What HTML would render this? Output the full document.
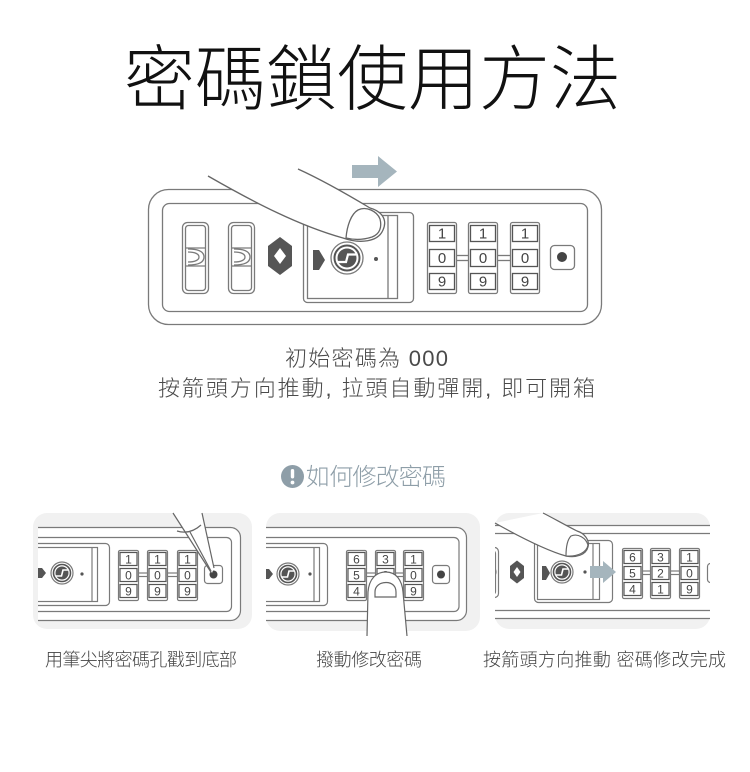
<!DOCTYPE html>
<html><head><meta charset="utf-8">
<style>
html,body{margin:0;padding:0;background:#fff;}
svg{display:block;}
.cj{font-family:"Liberation Sans","Noto Sans CJK TC",sans-serif;}
.dg{font-family:"Liberation Sans",sans-serif;fill:#444;text-anchor:middle;}
</style></head><body>
<svg width="750" height="772" viewBox="0 0 750 772" xmlns="http://www.w3.org/2000/svg">
<defs>
<clipPath id="c1"><rect x="38" y="500" width="214" height="140"/></clipPath>
<clipPath id="c2"><rect x="266" y="500" width="214" height="140"/></clipPath>
<clipPath id="c3"><rect x="495" y="500" width="215" height="140"/></clipPath>
</defs>

<!-- Title -->
<text class="cj" x="124" y="104" font-size="71" font-weight="300" fill="#111" textLength="497" lengthAdjust="spacing">密碼鎖使用方法</text>

<!-- top arrow -->
<polygon points="352,165 378,165 378,156 397,171.5 378,187 378,178 352,178" fill="#a5b5bd"/>

<!-- Top lock -->
<g fill="none" stroke="#7a7a7a" stroke-width="1.3">
<rect x="148.5" y="189.5" width="453" height="135" rx="20" fill="#fff"/>
<rect x="162.5" y="203.5" width="425" height="108" rx="7"/>
<rect x="182.5" y="222.5" width="26" height="71" rx="5"/>
<rect x="185.5" y="225.5" width="20" height="65" rx="3"/>
<line x1="185.5" y1="248" x2="205.5" y2="248"/>
<line x1="185.5" y1="266" x2="205.5" y2="266"/>
<path d="M188,249 C199,249 204,252 204,257 C204,262 199,265 188,265"/>
<path d="M188,252 C195,252 199,254 199,257 C199,260 195,262 188,262"/>
<rect x="228.5" y="222.5" width="26" height="71" rx="5"/>
<rect x="231.5" y="225.5" width="20" height="65" rx="3"/>
<line x1="231.5" y1="248" x2="251.5" y2="248"/>
<line x1="231.5" y1="266" x2="251.5" y2="266"/>
<path d="M234,249 C245,249 250,252 250,257 C250,262 245,265 234,265"/>
<path d="M234,252 C241,252 245,254 245,257 C245,260 241,262 234,262"/>
<rect x="303.5" y="212.5" width="110" height="90" rx="4" fill="#fff"/>
<rect x="307.5" y="215.5" width="90" height="83"/>
<line x1="388" y1="215.5" x2="388" y2="298.5"/>
<circle cx="347" cy="258" r="16"/>
<circle cx="347" cy="258" r="12.5" stroke="#555" stroke-width="2"/>
<!-- wheels -->
<rect x="427.5" y="222.5" width="29" height="71" rx="2"/>
<rect x="468.5" y="222.5" width="29" height="71" rx="2"/>
<rect x="510.5" y="222.5" width="29" height="71" rx="2"/>
<g stroke="#555" fill="#fff">
<rect x="429.5" y="225.5" width="25" height="16"/><rect x="429.5" y="249.5" width="25" height="17"/><rect x="429.5" y="273.5" width="25" height="16"/>
<rect x="470.5" y="225.5" width="25" height="16"/><rect x="470.5" y="249.5" width="25" height="17"/><rect x="470.5" y="273.5" width="25" height="16"/>
<rect x="512.5" y="225.5" width="25" height="16"/><rect x="512.5" y="249.5" width="25" height="17"/><rect x="512.5" y="273.5" width="25" height="16"/>
</g>
<line x1="456" y1="255.5" x2="468" y2="255.5"/><line x1="456" y1="260.5" x2="468" y2="260.5"/>
<line x1="497" y1="255.5" x2="510" y2="255.5"/><line x1="497" y1="260.5" x2="510" y2="260.5"/>
<rect x="550.5" y="245.5" width="24" height="24" rx="4"/>
</g>
<circle cx="347" cy="258" r="9.5" fill="#555"/>
<path d="M338,262 L346,262 L348,254.5 L356,254.5" stroke="#fff" stroke-width="2.2" fill="none"/>
<circle cx="376" cy="259" r="2" fill="#555"/>
<circle cx="562" cy="257" r="5" fill="#444"/>
<polygon points="313,250 319,250 325,260 319,270 313,270" fill="#555"/>
<polygon points="280,237 292,246 292,266 280,275 268,266 268,246" fill="#555"/>
<polygon points="280,248 286,256 280,264 274,256" fill="#fff"/>
<g class="dg" font-size="15">
<text x="442" y="238.5">1</text><text x="442" y="263">0</text><text x="442" y="286.5">9</text>
<text x="483" y="238.5">1</text><text x="483" y="263">0</text><text x="483" y="286.5">9</text>
<text x="525" y="238.5">1</text><text x="525" y="263">0</text><text x="525" y="286.5">9</text>
</g>
<!-- top finger -->
<path d="M208,176 C255,203 300,226 343,238 C360,244 378,242 383,230 C388,219 381,211 370,208 C345,193 320,179 298,169" fill="#fff" stroke="#666" stroke-width="1.3"/>
<path d="M346,238 C347,226 351,214 358,210 C366,206 377,211 380,219 C382,227 380,234 372,237 C363,240 354,240 346,238 Z" fill="#fff" stroke="#666" stroke-width="1.3"/>

<!-- Middle text -->
<text class="cj" x="285" y="366" font-size="22" font-weight="300" fill="#4a4a4a" textLength="163" lengthAdjust="spacing">初始密碼為 000</text>
<text class="cj" x="158" y="396" font-size="22" font-weight="300" fill="#4a4a4a" textLength="437" lengthAdjust="spacing">按箭頭方向推動, 拉頭自動彈開, 即可開箱</text>

<!-- How to change -->
<circle cx="292.5" cy="476.5" r="11.5" fill="#8e9ea8"/>
<rect x="290.8" y="469" width="3.4" height="9.5" rx="1.7" fill="#fff"/>
<circle cx="292.5" cy="482.5" r="1.9" fill="#fff"/>
<text class="cj" x="306" y="485" font-size="24" font-weight="300" fill="#8e9ea8" textLength="140" lengthAdjust="spacing">如何修改密碼</text>

<!-- Panel backgrounds -->
<rect x="33" y="513" width="219" height="116" rx="14" fill="#f1f1f1"/>
<rect x="266" y="513" width="214" height="118" rx="14" fill="#f1f1f1"/>
<rect x="495" y="513" width="215" height="116" rx="14" fill="#f1f1f1"/>

<!-- Panel 1 -->
<g clip-path="url(#c1)" fill="none" stroke="#7a7a7a" stroke-width="1.2">
<rect x="20.5" y="527.5" width="220" height="93" rx="10" fill="#fff"/>
<rect x="20.5" y="537.5" width="211" height="74" rx="5"/>
<rect x="20.5" y="543.5" width="89" height="62" rx="4"/>
<rect x="20.5" y="547.5" width="77" height="54"/>
<line x1="92" y1="547.5" x2="92" y2="601.5"/>
</g>
<g fill="none" stroke="#7a7a7a" stroke-width="1.2">
<circle cx="62" cy="573" r="11"/>
<circle cx="62" cy="573" r="8.5" stroke="#555" stroke-width="1.6"/>
<rect x="118.5" y="550.5" width="20" height="50" rx="1.5"/>
<rect x="147.5" y="550.5" width="20" height="50" rx="1.5"/>
<rect x="177.5" y="550.5" width="20" height="50" rx="1.5"/>
<g stroke="#555" fill="#fff">
<rect x="120" y="552.5" width="17" height="13"/><rect x="120" y="568.5" width="17" height="13"/><rect x="120" y="584.5" width="17" height="13"/>
<rect x="149" y="552.5" width="17" height="13"/><rect x="149" y="568.5" width="17" height="13"/><rect x="149" y="584.5" width="17" height="13"/>
<rect x="179" y="552.5" width="17" height="13"/><rect x="179" y="568.5" width="17" height="13"/><rect x="179" y="584.5" width="17" height="13"/>
</g>
<line x1="138.5" y1="573" x2="147.5" y2="573"/><line x1="138.5" y1="576.5" x2="147.5" y2="576.5"/>
<line x1="167.5" y1="573" x2="177.5" y2="573"/><line x1="167.5" y1="576.5" x2="177.5" y2="576.5"/>
<rect x="204.5" y="565.5" width="18" height="18" rx="3"/>
</g>
<circle cx="62" cy="573" r="6.5" fill="#555"/>
<path d="M56,576 L61.5,576 L63,570 L68,570" stroke="#fff" stroke-width="1.6" fill="none"/>
<polygon points="38,568 42,568 46,573 42,578 38,578" fill="#555"/>
<circle cx="82" cy="574" r="1.6" fill="#555"/>
<circle cx="213.5" cy="574.5" r="4" fill="#444"/>
<g class="dg" font-size="12">
<text x="128.5" y="563.5">1</text><text x="128.5" y="579.5">0</text><text x="128.5" y="595.5">9</text>
<text x="157.5" y="563.5">1</text><text x="157.5" y="579.5">0</text><text x="157.5" y="595.5">9</text>
<text x="187.5" y="563.5">1</text><text x="187.5" y="579.5">0</text><text x="187.5" y="595.5">9</text>
</g>
<!-- pen -->
<polygon points="173,513 202,513 214,568 212,573" fill="#fff"/>
<g stroke="#666" stroke-width="1.2" fill="none">
<line x1="173" y1="513" x2="211.5" y2="573"/>
<line x1="202" y1="513" x2="214" y2="568"/>
<path d="M177,531 Q190,535 201,525"/>
<line x1="190" y1="532" x2="211" y2="571"/>
</g>

<!-- Panel 2 -->
<g clip-path="url(#c2)" fill="none" stroke="#7a7a7a" stroke-width="1.2">
<rect x="250.5" y="527.5" width="216" height="93" rx="10" fill="#fff"/>
<rect x="250.5" y="537.5" width="208.5" height="74" rx="5"/>
<rect x="250.5" y="543.5" width="77" height="62" rx="4"/>
<rect x="250.5" y="547.5" width="69" height="54"/>
<line x1="314" y1="547.5" x2="314" y2="601.5"/>
</g>
<g fill="none" stroke="#7a7a7a" stroke-width="1.2">
<circle cx="288" cy="574" r="11"/>
<circle cx="288" cy="574" r="8.5" stroke="#555" stroke-width="1.6"/>
<rect x="346.5" y="550.5" width="20" height="50" rx="1.5"/>
<rect x="375.5" y="550.5" width="20" height="50" rx="1.5"/>
<rect x="403.5" y="550.5" width="20" height="50" rx="1.5"/>
<g stroke="#555" fill="#fff">
<rect x="348" y="552.5" width="17" height="13"/><rect x="348" y="568.5" width="17" height="13"/><rect x="348" y="584.5" width="17" height="13"/>
<rect x="377" y="552.5" width="17" height="13"/><rect x="377" y="568.5" width="17" height="13"/><rect x="377" y="584.5" width="17" height="13"/>
<rect x="405" y="552.5" width="17" height="13"/><rect x="405" y="568.5" width="17" height="13"/><rect x="405" y="584.5" width="17" height="13"/>
</g>
<line x1="366.5" y1="573" x2="375.5" y2="573"/><line x1="366.5" y1="576.5" x2="375.5" y2="576.5"/>
<line x1="395.5" y1="573" x2="403.5" y2="573"/><line x1="395.5" y1="576.5" x2="403.5" y2="576.5"/>
<rect x="432.5" y="565.5" width="17" height="18" rx="3"/>
</g>
<circle cx="288" cy="574" r="6.5" fill="#555"/>
<path d="M282,577 L287.5,577 L289,571 L294,571" stroke="#fff" stroke-width="1.6" fill="none"/>
<polygon points="266,569 269,569 273,574 269,579 266,579" fill="#555"/>
<circle cx="310" cy="574" r="1.6" fill="#555"/>
<circle cx="441" cy="574.5" r="4" fill="#444"/>
<g class="dg" font-size="12">
<text x="356.5" y="563.5">6</text><text x="356.5" y="579.5">5</text><text x="356.5" y="595.5">4</text>
<text x="385.5" y="563.5">3</text><text x="385.5" y="579.5">2</text><text x="385.5" y="595.5">1</text>
<text x="413.5" y="563.5">1</text><text x="413.5" y="579.5">0</text><text x="413.5" y="595.5">9</text>
</g>
<!-- finger 2 -->
<path d="M367,636 L368,592 C369,579 376,572 386,572 C396,572 402,580 403,592 L407,636" fill="#fff" stroke="#666" stroke-width="1.2"/>
<path d="M375,597 L375,592 C375,586 380,582.5 386,582.5 C392,582.5 396,586 396,592 L396,597 Z" fill="#fff" stroke="#666" stroke-width="1.2"/>

<!-- Panel 3 -->
<g clip-path="url(#c3)" fill="none" stroke="#7a7a7a" stroke-width="1.2">
<rect x="480" y="525.5" width="250" height="93" fill="#fff" stroke="none"/>
<line x1="480" y1="525.5" x2="730" y2="525.5"/>
<line x1="480" y1="533.5" x2="730" y2="533.5"/>
<line x1="480" y1="610.5" x2="730" y2="610.5"/>
<line x1="480" y1="618.5" x2="730" y2="618.5"/>
<rect x="470.5" y="547.5" width="28" height="50" rx="4"/>
<rect x="473.5" y="550.5" width="22" height="44" rx="3"/>
<path d="M484,565 C492,565 496,568 496,572 C496,576 492,579 484,579"/>
<rect x="707.5" y="563.5" width="18" height="19" rx="3"/>
</g>
<g fill="none" stroke="#7a7a7a" stroke-width="1.2">
<rect x="534.5" y="540.5" width="78" height="62" rx="4" fill="#fff"/>
<rect x="537.5" y="543.5" width="62" height="56"/>
<line x1="593" y1="543.5" x2="593" y2="599.5"/>
<circle cx="562" cy="572" r="11"/>
<circle cx="562" cy="572" r="8.5" stroke="#555" stroke-width="1.6"/>
<rect x="622.5" y="548.5" width="20" height="50" rx="1.5"/>
<rect x="650.5" y="548.5" width="20" height="50" rx="1.5"/>
<rect x="679.5" y="548.5" width="20" height="50" rx="1.5"/>
<g stroke="#555" fill="#fff">
<rect x="624" y="550.5" width="17" height="13"/><rect x="624" y="566.5" width="17" height="13"/><rect x="624" y="582.5" width="17" height="13"/>
<rect x="652" y="550.5" width="17" height="13"/><rect x="652" y="566.5" width="17" height="13"/><rect x="652" y="582.5" width="17" height="13"/>
<rect x="681" y="550.5" width="17" height="13"/><rect x="681" y="566.5" width="17" height="13"/><rect x="681" y="582.5" width="17" height="13"/>
</g>
<line x1="642.5" y1="571" x2="650.5" y2="571"/><line x1="642.5" y1="574.5" x2="650.5" y2="574.5"/>
<line x1="670.5" y1="571" x2="679.5" y2="571"/><line x1="670.5" y1="574.5" x2="679.5" y2="574.5"/>
</g>
<polygon points="517,560.5 524,566 524,578 517,583.5 510,578 510,566" fill="#555"/>
<polygon points="517,567 520.5,572 517,577 513.5,572" fill="#fff"/>
<circle cx="562" cy="572" r="6.5" fill="#555"/>
<path d="M556,575 L561.5,575 L563,569 L568,569" stroke="#fff" stroke-width="1.6" fill="none"/>
<polygon points="542,566 546,566 550,573 546,580 542,580" fill="#555"/>
<circle cx="585" cy="572" r="1.6" fill="#555"/>
<polygon points="590,566 603,566 603,561 616,572 603,583 603,578 590,578" fill="#a5b5bd"/>
<g class="dg" font-size="12">
<text x="632.5" y="561.5">6</text><text x="632.5" y="577.5">5</text><text x="632.5" y="593.5">4</text>
<text x="660.5" y="561.5">3</text><text x="660.5" y="577.5">2</text><text x="660.5" y="593.5">1</text>
<text x="689.5" y="561.5">1</text><text x="689.5" y="577.5">0</text><text x="689.5" y="593.5">9</text>
</g>
<!-- finger 3 -->
<path d="M495,523 C520,537 545,550 566,556 C576,558 586,555 588,547 C590,540 584,533 577,531 C565,525 553,518 543,513" fill="#fff" stroke="#666" stroke-width="1.2"/>
<path d="M566,556 C566,548 567,540 571,536 C578,533 586,538 588,545 C587,552 578,557 566,556 Z" fill="#fff" stroke="#666" stroke-width="1.2"/>

<!-- Captions -->
<text class="cj" x="45" y="666" font-size="18" font-weight="300" fill="#444" textLength="192" lengthAdjust="spacing">用筆尖將密碼孔戳到底部</text>
<text class="cj" x="316" y="666" font-size="18" font-weight="300" fill="#444" textLength="106" lengthAdjust="spacing">撥動修改密碼</text>
<text class="cj" x="483" y="666" font-size="18" font-weight="300" fill="#444" textLength="243" lengthAdjust="spacing">按箭頭方向推動 密碼修改完成</text>
</svg>
</body></html>
